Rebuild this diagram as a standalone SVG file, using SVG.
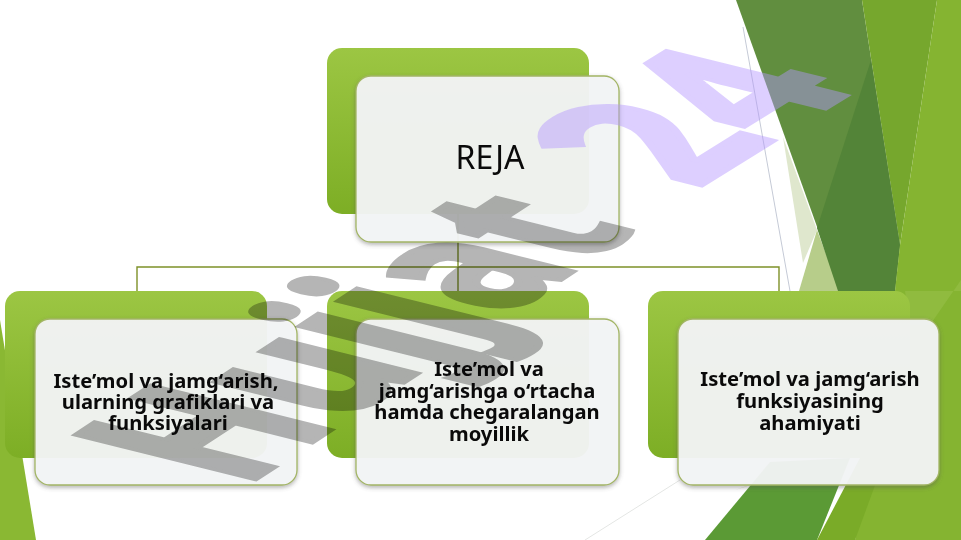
<svg xmlns="http://www.w3.org/2000/svg" width="961" height="540" viewBox="0 0 961 540">
<style>
.t{font-family:"Noto Sans","Open Sans",sans-serif;font-weight:700;font-size:20.2px;fill:#0a0a0a;text-anchor:middle}
.back{fill:url(#g)}
.front{fill:#f4f5f7;fill-opacity:.94;stroke:#a3b566;stroke-width:1.3;filter:url(#s)}
.wm{font-family:"Noto Sans","Open Sans",sans-serif;font-weight:700;font-size:100px;stroke-width:3;stroke-linejoin:miter}
</style>
<defs>
<linearGradient id="g" x1="0" y1="0" x2="0" y2="1"><stop offset="0" stop-color="#9cc643"/><stop offset="1" stop-color="#7dae25"/></linearGradient>
<filter id="s" x="-5%" y="-5%" width="110%" height="112%"><feDropShadow dx="0" dy="2" stdDeviation="2" flood-color="#555" flood-opacity=".45"/></filter>
</defs>
<rect width="961" height="540" fill="#fff"/>
<g id="decor">
<path d="M743 27L790 291" stroke="#c5cad6" fill="none"/>
<path d="M585 540L680 480" stroke="#e4e6e4" fill="none"/>
<polygon points="783,137 817,230 803,263" fill="#dfe7cd"/>
<polygon points="817,230 840,291 799,291" fill="#b7cd8a"/>
<polygon points="736,0 862,0 900,245 895,291 840,291" fill="#618e3f"/>
<polygon points="862,0 937,0 900,245" fill="#76a72d"/>
<polygon points="871,60 900,245 895,291 838,291 817,228" fill="#538438"/>
<polygon points="937,0 961,0 961,540 855,540 895,291 900,245" fill="#85b431"/>
<polygon points="905,291 961,291 961,280 930,325 910,325" fill="#90bb3f"/>
<polygon points="705,540 770,462 850,458 817,540" fill="#5b9a35"/>
<polygon points="817,540 860,458 885,458 855,540" fill="#7aab28"/>
<polygon points="735,490 752,484 745,487" fill="#dfe7cd"/>
<polygon points="0,320 36,540 0,540" fill="#8ab833"/>
</g>
<g id="connectors" fill="none" stroke="#7e9128" stroke-width="1.4">
<path d="M458 214V291M137 291V267H779V291"/>
</g>
<g id="n0"><rect class="back" x="327" y="48" width="262" height="166" rx="15"/><rect class="front" x="356" y="76" width="263" height="166" rx="15"/>
<text x="490" y="169" font-family="Noto Sans" font-size="32" fill="#0a0a0a" text-anchor="middle">REJA</text></g>
<g id="n1"><rect class="back" x="5" y="291" width="262" height="167" rx="15"/><rect class="front" x="35" y="319" width="262" height="166" rx="15"/>
<text class="t" x="166" y="388">Iste’mol va jamg‘arish,</text><text class="t" x="168" y="409">ularning grafiklari va</text><text class="t" x="168" y="430">funksiyalari</text></g>
<g id="n2"><rect class="back" x="327" y="291" width="262" height="167" rx="15"/><rect class="front" x="356" y="319" width="263" height="166" rx="15"/>
<text class="t" x="489" y="376">Iste’mol va</text><text class="t" x="487" y="398">jamg‘arishga o‘rtacha</text><text class="t" x="487" y="419">hamda chegaralangan</text><text class="t" x="489" y="441">moyillik</text></g>
<g id="n3"><rect class="back" x="648" y="291" width="262" height="167" rx="15"/><rect class="front" x="678" y="319" width="261" height="166" rx="15"/>
<text class="t" x="810" y="386">Iste’mol va jamg‘arish</text><text class="t" x="810" y="408">funksiyasining</text><text class="t" x="810" y="430">ahamiyati</text></g>
<g id="watermark">
<text class="wm" transform="matrix(1.3 -.85 2.5 .62 243 487)" fill="#b5b5b5" stroke="#b5b5b5" style="mix-blend-mode:multiply">Hujjat</text>
<text class="wm" transform="matrix(1.45 -.9 2.5 .62 695 189)" fill="#b496ff" stroke="#b496ff" opacity=".45">24</text>
</g>
</svg>
